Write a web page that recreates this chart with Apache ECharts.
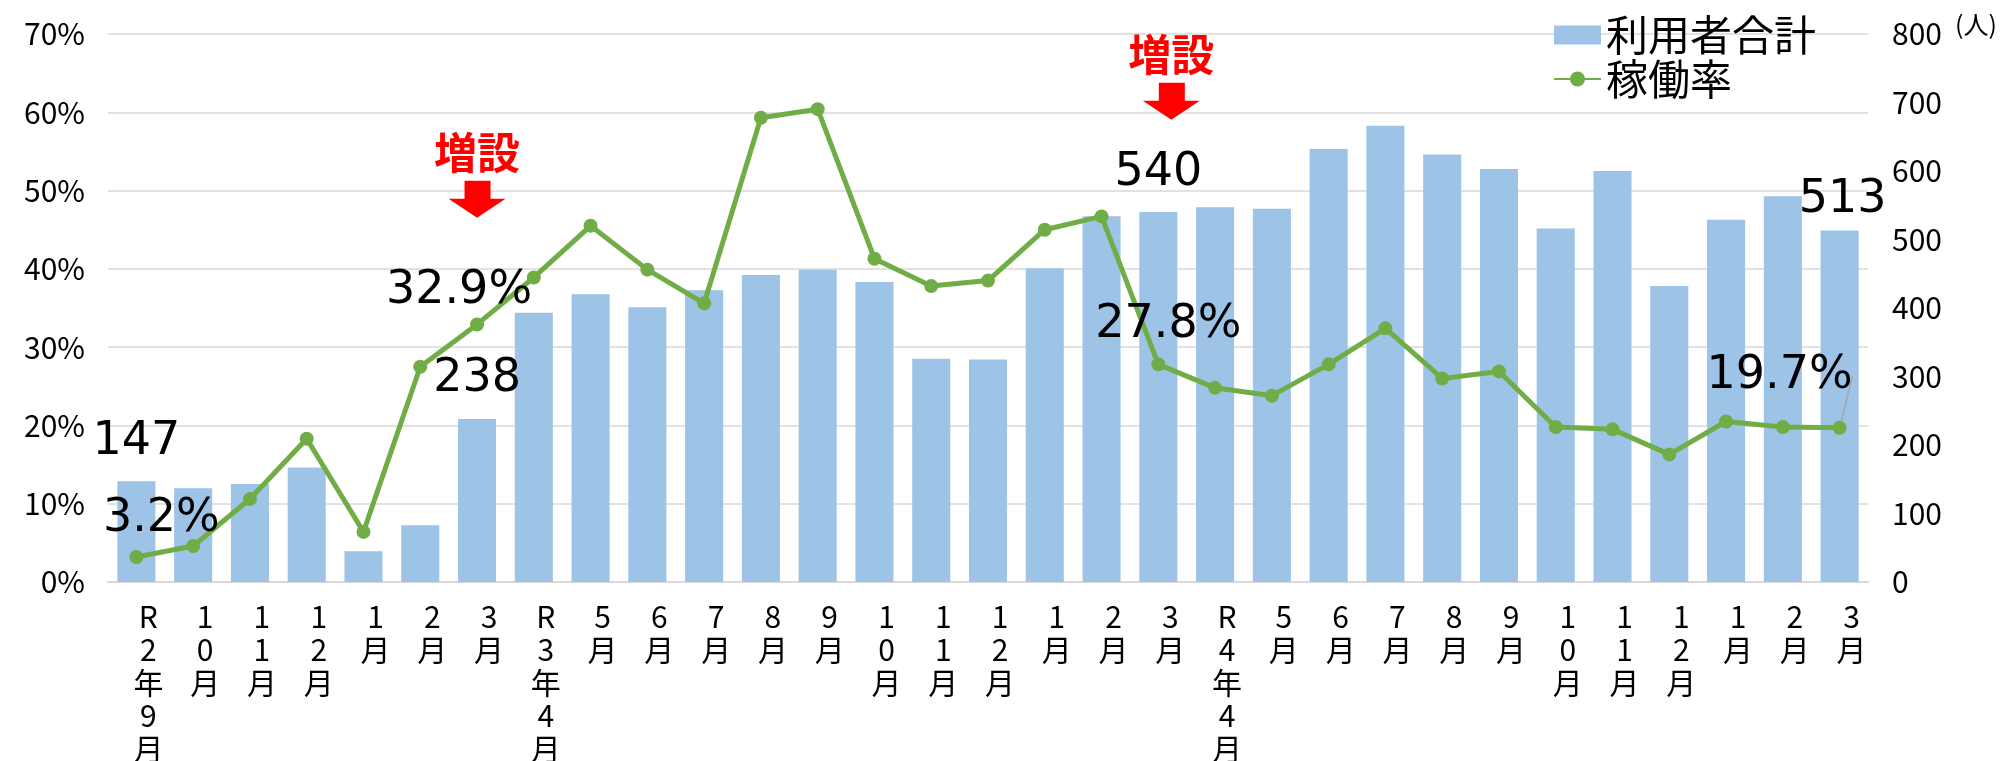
<!DOCTYPE html>
<html>
<head>
<meta charset="utf-8">
<title>利用者合計と稼働率</title>
<script src="https://cdn.jsdelivr.net/npm/echarts@6/dist/echarts.min.js"></script>
<style>
  html,body{margin:0;padding:0;background:#fff;}
  #chart{width:2013px;height:761px;}
</style>
</head>
<body>
<div id="chart"></div>
<script>
// カテゴリ（月）
const categories = ['R2年9月','10月','11月','12月','1月','2月','3月',
  'R3年4月','5月','6月','7月','8月','9月','10月','11月','12月','1月','2月','3月',
  'R4年4月','5月','6月','7月','8月','9月','10月','11月','12月','1月','2月','3月'];

// 利用者合計（人）
const users = [147,137,143,167,45,83,238,393,420,401,426,448,456,438,326,325,458,534,540,
  547,545,632,666,624,603,516,600,432,529,563,513];

// 稼働率（%）
const rate = [3.2,4.6,10.6,18.3,6.4,27.5,32.9,38.9,45.5,39.9,35.6,59.3,60.4,41.3,37.8,38.5,45.0,46.7,27.8,
  24.8,23.8,27.8,32.4,26.0,26.9,19.8,19.5,16.3,20.5,19.8,19.7];

// ラベルを出す月のindex
const labeled = [0,6,18,30];
// 増設の月のindex
const expansion = [6,18];

const FONT = '"Noto Sans CJK JP","Noto Sans",sans-serif';
const NUM_FONT = '"DejaVu Sans","Noto Sans",sans-serif';

const chart = echarts.init(document.getElementById('chart'));

// 稼働率ラベルの位置ずらし
const rateLabelShift = {0:[25,-38],6:[-18,-33],18:[10,-39],30:[-60,-52]};
const userLabelDist = {0:16,6:17,18:16,30:8};

const barData = users.map((v,i)=>{
  if(!labeled.includes(i)) return v;
  return {value:v,label:{show:true,position:'top',distance:userLabelDist[i],offset:i===30?[3,0]:[0,0]}};
});

const lineData = rate.map((v,i)=>{
  if(!labeled.includes(i)) return v;
  const item = {value:v,label:{show:true,position:'inside',formatter:'{c}%'}};
  if(i===30){
    item.labelLine = {show:true,lineStyle:{color:'#A6A6A6',width:1.5}};
  }
  return item;
});

const arrowPath = 'path://M16 0 L42 0 L42 18 L57 18 L28.5 37 L0 18 L16 18 Z';

const option = {
  animation:false,
  textStyle:{fontFamily:FONT},
  grid:{left:108,right:145,top:34,bottom:179,containLabel:false,outerBoundsMode:'none'},
  legend:{
    orient:'vertical',
    left:1548,
    top:8,
    itemWidth:47,
    itemHeight:19,
    itemGap:0,
    textStyle:{fontSize:42,lineHeight:44,color:'#000',fontFamily:FONT},
    data:[{name:'利用者合計',icon:'rect'},{name:'稼働率'}]
  },
  xAxis:{
    type:'category',
    data:categories,
    axisLine:{lineStyle:{color:'#D9D9D9',width:2}},
    axisTick:{show:false},
    axisLabel:{
      interval:0,
      margin:18,
      fontSize:30,
      lineHeight:33,
      color:'#000',
      padding:[0,0,0,24],
      formatter:(v)=>v.split('').join('\n')
    }
  },
  yAxis:[
    {
      type:'value',
      min:0,max:70,interval:10,
      axisLine:{show:false},
      axisTick:{show:false},
      splitLine:{lineStyle:{color:'#D9D9D9',width:1.5}},
      axisLabel:{fontSize:30,color:'#000',margin:23,formatter:'{value}%'}
    },
    {
      type:'value',
      min:0,max:800,interval:100,
      axisLine:{show:false},
      axisTick:{show:false},
      splitLine:{show:false},
      axisLabel:{fontSize:30,color:'#000',margin:24}
    }
  ],
  series:[
    {
      name:'利用者合計',
      type:'bar',
      yAxisIndex:1,
      barWidth:'67%',
      itemStyle:{color:'#9DC3E6'},
      label:{show:false,fontSize:46,color:'#000',fontFamily:NUM_FONT},
      data:barData
    },
    {
      name:'稼働率',
      type:'line',
      yAxisIndex:0,
      symbol:'circle',
      symbolSize:14,
      lineStyle:{color:'#70AD47',width:5},
      itemStyle:{color:'#70AD47'},
      label:{show:false,fontSize:46,color:'#000',fontFamily:NUM_FONT},
      labelLayout:(p)=>{
        const s = rateLabelShift[p.dataIndex];
        if(p.seriesIndex!==1 || !s) return {};
        return {dx:s[0],dy:s[1]};
      },
      data:lineData,
      markPoint:{
        symbol:arrowPath,
        symbolSize:[57,37],
        itemStyle:{color:'#FF0000'},
        label:{
          show:true,
          position:'top',
          distance:7,
          formatter:'増設',
          fontSize:43,
          fontWeight:'bold',
          color:'#FF0000',
          fontFamily:FONT
        },
        data:[
          {coord:[expansion[0],48.9]},
          {coord:[expansion[1],61.4],symbolOffset:[13,0]}
        ]
      }
    }
  ],
  graphic:[
    {type:'text',left:1955,top:12,style:{text:'(人)',fontSize:25,fill:'#000',fontFamily:FONT}}
  ]
};

chart.setOption(option);
</script>
</body>
</html>
